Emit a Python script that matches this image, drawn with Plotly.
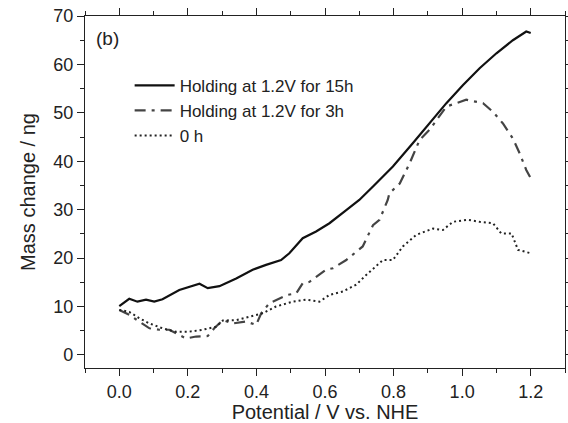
import plotly.graph_objects as go

# 15 h hold
x15 = [0.0, 0.029, 0.053, 0.078, 0.102, 0.126, 0.175, 0.214, 0.234, 0.258, 0.292, 0.341, 0.389,
       0.428, 0.472, 0.496, 0.535, 0.574, 0.613, 0.662, 0.70, 0.74, 0.798, 0.856, 0.905, 0.954,
       1.002, 1.051, 1.10, 1.148, 1.187, 1.2]
y15 = [10.1, 11.6, 11.0, 11.4, 11.0, 11.5, 13.4, 14.2, 14.7, 13.8, 14.2, 15.8, 17.6,
       18.6, 19.6, 21.0, 24.1, 25.5, 27.2, 29.9, 32.0, 34.8, 38.9, 43.7, 47.8, 52.0,
       55.7, 59.2, 62.3, 65.0, 66.8, 66.5]

# 3 h hold
x3 = [0.0, 0.029, 0.058, 0.088, 0.117, 0.146, 0.175, 0.195, 0.224, 0.258, 0.277, 0.302, 0.331,
      0.37, 0.399, 0.414, 0.438, 0.467, 0.491, 0.516, 0.535, 0.555, 0.603, 0.623, 0.662, 0.71,
      0.74, 0.759, 0.783, 0.788, 0.818, 0.847, 0.876, 0.905, 0.934, 0.954, 1.012, 1.061, 1.09,
      1.119, 1.148, 1.168, 1.187, 1.2]
y3 = [9.3, 8.3, 6.9, 5.5, 5.2, 5.2, 4.1, 3.4, 3.8, 3.9, 5.5, 7.2, 6.5,
      6.9, 6.2, 8.6, 10.7, 11.7, 12.4, 12.7, 14.8, 15.1, 17.6, 17.9, 19.6, 22.4,
      26.8, 27.9, 32.0, 33.4, 35.4, 39.6, 44.4, 46.5, 49.2, 51.3, 52.7, 52.0, 50.2,
      47.8, 44.7, 41.6, 38.2, 36.5]

# 0 h
x0 = [0.0, 0.029, 0.058, 0.088, 0.126, 0.165, 0.204, 0.243, 0.282, 0.302, 0.341, 0.38, 0.418,
      0.457, 0.506, 0.545, 0.584, 0.613, 0.652, 0.691, 0.72, 0.769, 0.798, 0.827, 0.866, 0.915,
      0.944, 0.973, 1.017, 1.051, 1.09, 1.114, 1.144, 1.163, 1.2]
y0 = [9.3, 8.9, 7.6, 6.5, 5.5, 4.8, 4.8, 5.2, 5.8, 7.1, 7.2, 7.9, 8.6,
      10.0, 11.0, 11.4, 11.0, 12.4, 13.1, 14.5, 16.5, 19.6, 19.6, 22.4, 24.8, 26.1,
      25.8, 27.5, 27.9, 27.5, 27.2, 25.1, 25.1, 21.7, 21.0]

names = ["Holding at 1.2V for 15h", "Holding at 1.2V for 3h", "0 h"]

FONT = "Liberation Sans, Arial"
INK = "#222222"

fig = go.Figure()
fig.add_trace(go.Scatter(x=x15, y=y15, mode="lines", name=names[0],
                         line=dict(color="#111111", width=2.2)))
fig.add_trace(go.Scatter(x=x3, y=y3, mode="lines", name=names[1],
                         line=dict(color="#444444", width=2.2, dash="11px,6px,3px,6px")))
fig.add_trace(go.Scatter(x=x0, y=y0, mode="lines", name=names[2],
                         line=dict(color=INK, width=2, dash="2px,3px")))

axis_common = dict(showline=True, linecolor=INK, linewidth=1.2, mirror="ticks",
                   ticks="outside", ticklen=7, tickwidth=1.2, tickcolor=INK,
                   showgrid=False, zeroline=False, automargin=False,
                   tickfont=dict(family=FONT, size=18, color=INK))

fig.update_xaxes(range=[-0.1, 1.3], dtick=0.2, tick0=0, tickformat=".1f",
                 minor=dict(dtick=0.1, ticks="outside", ticklen=4, tickcolor=INK, tickwidth=1.2),
                 title=dict(text="Potential / V vs. NHE", standoff=12,
                            font=dict(family=FONT, size=20, color=INK)),
                 **axis_common)
fig.update_yaxes(range=[-2.7, 70], dtick=10, tick0=0,
                 minor=dict(dtick=5, ticks="outside", ticklen=4, tickcolor=INK, tickwidth=1.2),
                 title=dict(text="Mass change / ng", standoff=12,
                            font=dict(family=FONT, size=20, color=INK)),
                 **axis_common)

fig.add_annotation(text="(b)", xref="paper", yref="paper", x=0.018, y=0.935,
                   xanchor="left", yanchor="middle", showarrow=False,
                   font=dict(family=FONT, size=19, color=INK))

fig.update_layout(
    width=568, height=423,
    margin=dict(l=85, r=3, t=16, b=55),
    plot_bgcolor="white", paper_bgcolor="white",
    showlegend=True,
    legend=dict(x=0.093, y=0.853, xanchor="left", yanchor="top", itemwidth=40,
                bgcolor="rgba(0,0,0,0)", tracegroupgap=0,
                font=dict(family=FONT, size=17, color=INK)),
)

fig.write_html("out.html")
